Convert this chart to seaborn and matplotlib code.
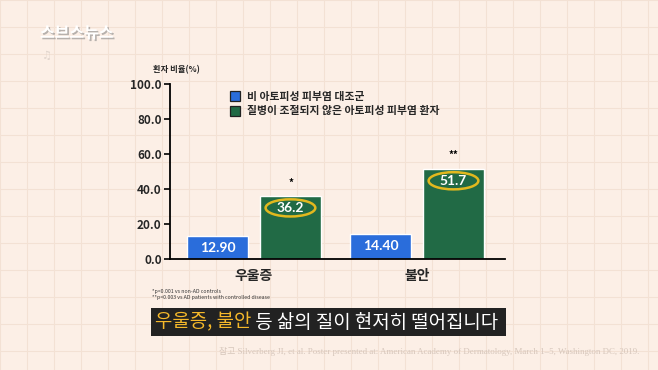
import matplotlib
matplotlib.use("Agg")
import matplotlib.pyplot as plt
from matplotlib.patches import Patch, Ellipse
import matplotlib.patheffects as pe
import seaborn as sns
import pandas as pd

# ---- data ----
categories = ["우울증", "불안"]
groups = ["비 아토피성 피부염 대조군", "질병이 조절되지 않은 아토피성 피부염 환자"]
control_values = [12.9, 14.4]
ad_values = [36.2, 51.7]
control_labels = ["12.90", "14.40"]
ad_labels = ["36.2", "51.7"]
significance = ["*", "**"]
yticks = [0, 20, 40, 60, 80, 100]
ylabel = "환자 비율(%)"
footnotes = ["*p<0.001 vs non-AD controls", "**p<0.003 vs AD patients with controlled disease"]
caption_hi = "우울증, 불안"
caption_rest = " 등 삶의 질이 현저히 떨어집니다"
source = "참고 Silverberg JI, et al. Poster presented at: American Academy of Dermatology, March 1–5, Washington DC, 2019."

BG = "#fcefe6"
BLUE = "#2a6ddb"
GREEN = "#216a45"
YELLOW = "#e2b81e"
colors = [BLUE, GREEN]

df = pd.DataFrame({
    "category": categories * 2,
    "group": [groups[0]] * 2 + [groups[1]] * 2,
    "value": control_values + ad_values,
})

sns.set_theme(style="white")
plt.rcParams["font.family"] = ["Noto Sans CJK KR", "DejaVu Sans"]

W, H = 658, 370
fig = plt.figure(figsize=(W / 100, H / 100), dpi=100, facecolor=BG)

# faint background grid
for gx in range(0, W, 27):
    fig.add_artist(plt.Line2D([gx / W, gx / W], [0, 1], color="#f3e1d4", lw=0.8, zorder=0))
for gy in range(0, H, 27):
    fig.add_artist(plt.Line2D([0, 1], [1 - gy / H, 1 - gy / H], color="#f3e1d4", lw=0.8, zorder=0))

ax = fig.add_axes([170 / W, 1 - 259 / H, (505 - 170) / W, (259 - 84) / H])
ax.set_facecolor("none")

sns.barplot(data=df, x="category", y="value", hue="group", palette=colors,
            width=0.896, gap=0.164, ax=ax, legend=False, saturation=1)

ax.set_xlim(-0.515, 1.54)
ax.set_ylim(0, 100)
ax.set_yticks(yticks)
ax.set_yticklabels([f"{v:.1f}" for v in yticks], fontsize=8.5, fontweight="bold")
ax.tick_params(axis="y", length=4, width=1.2, color="black", pad=2, direction="out", left=True)
ax.tick_params(axis="x", length=0, pad=7)
ax.set_xticks([0, 1])
ax.set_xticklabels(categories, fontsize=10, fontweight="bold")
ax.set_xlabel("")
ax.set_ylabel("")
for s in ["top", "right"]:
    ax.spines[s].set_visible(False)
for s in ["left", "bottom"]:
    ax.spines[s].set_color("black")
    ax.spines[s].set_linewidth(1.3)

# value labels
control_bars = ax.containers[0]
ad_bars = ax.containers[1]
for bar, v, lab in zip(control_bars, control_values, control_labels):
    cx = bar.get_x() + bar.get_width() / 2
    ax.text(cx, v / 2, lab, ha="center", va="center", color="white",
            fontsize=10, fontweight="bold", family=["Lato", "DejaVu Sans"])
for bar, v, lab, sig in zip(ad_bars, ad_values, ad_labels, significance):
    cx = bar.get_x() + bar.get_width() / 2
    ax.text(cx, v - 7, lab, ha="center", va="center", color="white",
            fontsize=10, fontweight="bold", family=["Lato", "DejaVu Sans"])
    ax.add_patch(Ellipse((cx, v - 7), width=0.305, height=9.8, fill=False,
                         edgecolor=YELLOW, lw=1.8))
    ax.text(cx, v + 7.5, sig, ha="center", va="center", color="black",
            fontsize=7, fontweight="bold")

# legend
handles = [Patch(facecolor=c, edgecolor="#222222", lw=0.9) for c in colors]
ax.legend(handles, groups, loc="upper left", bbox_to_anchor=(0.165, 0.985),
          frameon=False, prop={"size": 7.8, "weight": "bold"},
          handlelength=1.0, handleheight=1.0, handletextpad=0.6, labelspacing=0.4,
          borderaxespad=0)

# y label
fig.text(176 / W, 1 - 70 / H, ylabel, ha="center", va="center", fontsize=6, fontweight="bold")

# footnotes
fig.text(152 / W, 1 - 291 / H, footnotes[0], ha="left", va="center", fontsize=3.8, color="#333333")
fig.text(152 / W, 1 - 298 / H, footnotes[1], ha="left", va="center", fontsize=3.8, color="#333333")

# caption box
fig.add_artist(plt.Rectangle((151 / W, 1 - 336 / H), (506 - 151) / W, 28 / H,
                             facecolor="#222222", edgecolor="none", transform=fig.transFigure))
t1 = fig.text(155 / W, 1 - 322 / H, caption_hi, ha="left", va="center",
              fontsize=13.6, color="#f5b82a")
fig.canvas.draw()
bb = t1.get_window_extent()
fig.text(bb.x1 / W, 1 - 322 / H, caption_rest, ha="left", va="center",
         fontsize=13.6, color="white")

# source
fig.text(639 / W, 1 - 351 / H, source, ha="right", va="center", fontsize=6.4,
         color="#d6c6bb", family=["Liberation Serif", "Noto Sans CJK KR"])

# logo
fig.text(40 / W, 1 - 33 / H, "스브스뉴스", ha="left", va="center", fontsize=11.5,
         fontweight="black", color="white", style="italic",
         path_effects=[pe.withSimplePatchShadow(offset=(1.2, -1.2), shadow_rgbFace="#888888", alpha=0.6)])
fig.text(42 / W, 1 - 56 / H, "♫", ha="left", va="center", fontsize=8, color="#e0d4cc",
         family=["DejaVu Sans"])

fig.savefig("out.png", dpi=100, facecolor=BG)
